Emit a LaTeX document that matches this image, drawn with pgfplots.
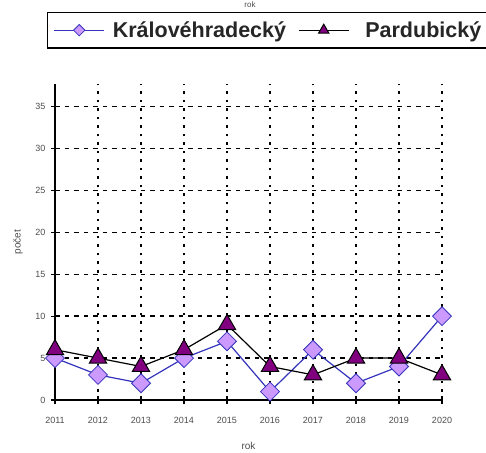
\documentclass[border=0pt]{standalone}
\usepackage{pgfplots}
\pgfplotsset{compat=1.18}
\usepackage{fontspec}
\setmainfont{Liberation Sans}
\definecolor{kvline}{RGB}{51,51,187}
\definecolor{kvfill}{RGB}{204,153,255}
\definecolor{pardfill}{RGB}{128,0,128}
\begin{document}
\begin{tikzpicture}[x=1pt,y=1pt]
\useasboundingbox (0,0) rectangle (486,452);
\node[font=\fontsize{8}{9}\selectfont, text=black!70, anchor=north] at (250,454) {rok};
\begin{axis}[
  at={(55pt,52pt)}, anchor=south west,
  scale only axis, width=387pt, height=316pt,
  xmin=2011, xmax=2020, ymin=0, ymax=37.7,
  axis x line*=bottom, axis y line*=left,
  axis line style={black, line width=1.2pt, -},
  xtick={2011,2012,...,2019},
  extra x ticks={2020},
  extra x tick style={grid style={solid, black!45, line width=1.2pt}},
  ytick={0,5,...,35},
  tick align=center, major tick length=8pt,
  tick style={black, line width=1.2pt},
  xmajorgrids, ymajorgrids,
  x grid style={black, line width=1.5pt, dash pattern=on 2.5pt off 6pt},
  y grid style={black, line width=1.5pt, dash pattern=on 4.5pt off 5pt},
  /pgf/number format/1000 sep={},
  /pgf/number format/assume math mode=true,
  tick label style={font=\fontsize{9}{10}\selectfont, text=black!70},
  xticklabel style={yshift=-10pt},
  yticklabel style={xshift=-2pt},
  xlabel={rok}, ylabel={počet},
  label style={font=\fontsize{10}{11}\selectfont, text=black!70},
  xlabel style={yshift=-3pt},
  ylabel style={yshift=6pt},
  clip=false,
  legend columns=2,
  legend style={at={(-0.0207,1.228)}, anchor=north west, draw=black, line width=1.3pt,
    font=\fontsize{21.5}{24}\selectfont\bfseries, text=black!85,
    inner xsep=6pt, inner ysep=7pt,
    /tikz/every odd column/.append style={column sep=6pt},
    /tikz/every even column/.append style={column sep=10pt}},
  legend image code/.code={
    \draw[mark repeat=2,mark phase=2,#1, every mark/.append style={scale=0.6}]
      plot coordinates {(0pt,0pt) (25pt,0pt) (50pt,0pt)};
  },
]
\addplot[color=kvline, line width=1.2pt, mark=square*, mark size=6.7pt,
  mark options={rotate=45, fill=kvfill, draw=kvline, line width=0.8pt, solid}]
  coordinates {(2011,5) (2012,3) (2013,2) (2014,5) (2015,7) (2016,1) (2017,6) (2018,2) (2019,4) (2020,10)};
\addlegendentry{Královéhradecký}
\addplot[color=black, line width=1.2pt, mark=triangle*, mark size=10pt,
  mark options={fill=pardfill, draw=black, line width=1pt, solid}]
  coordinates {(2011,6) (2012,5) (2013,4) (2014,6) (2015,9) (2016,4) (2017,3) (2018,5) (2019,5) (2020,3)};
\addlegendentry{\hspace{8pt}Pardubický}
\end{axis}
\end{tikzpicture}
\end{document}
